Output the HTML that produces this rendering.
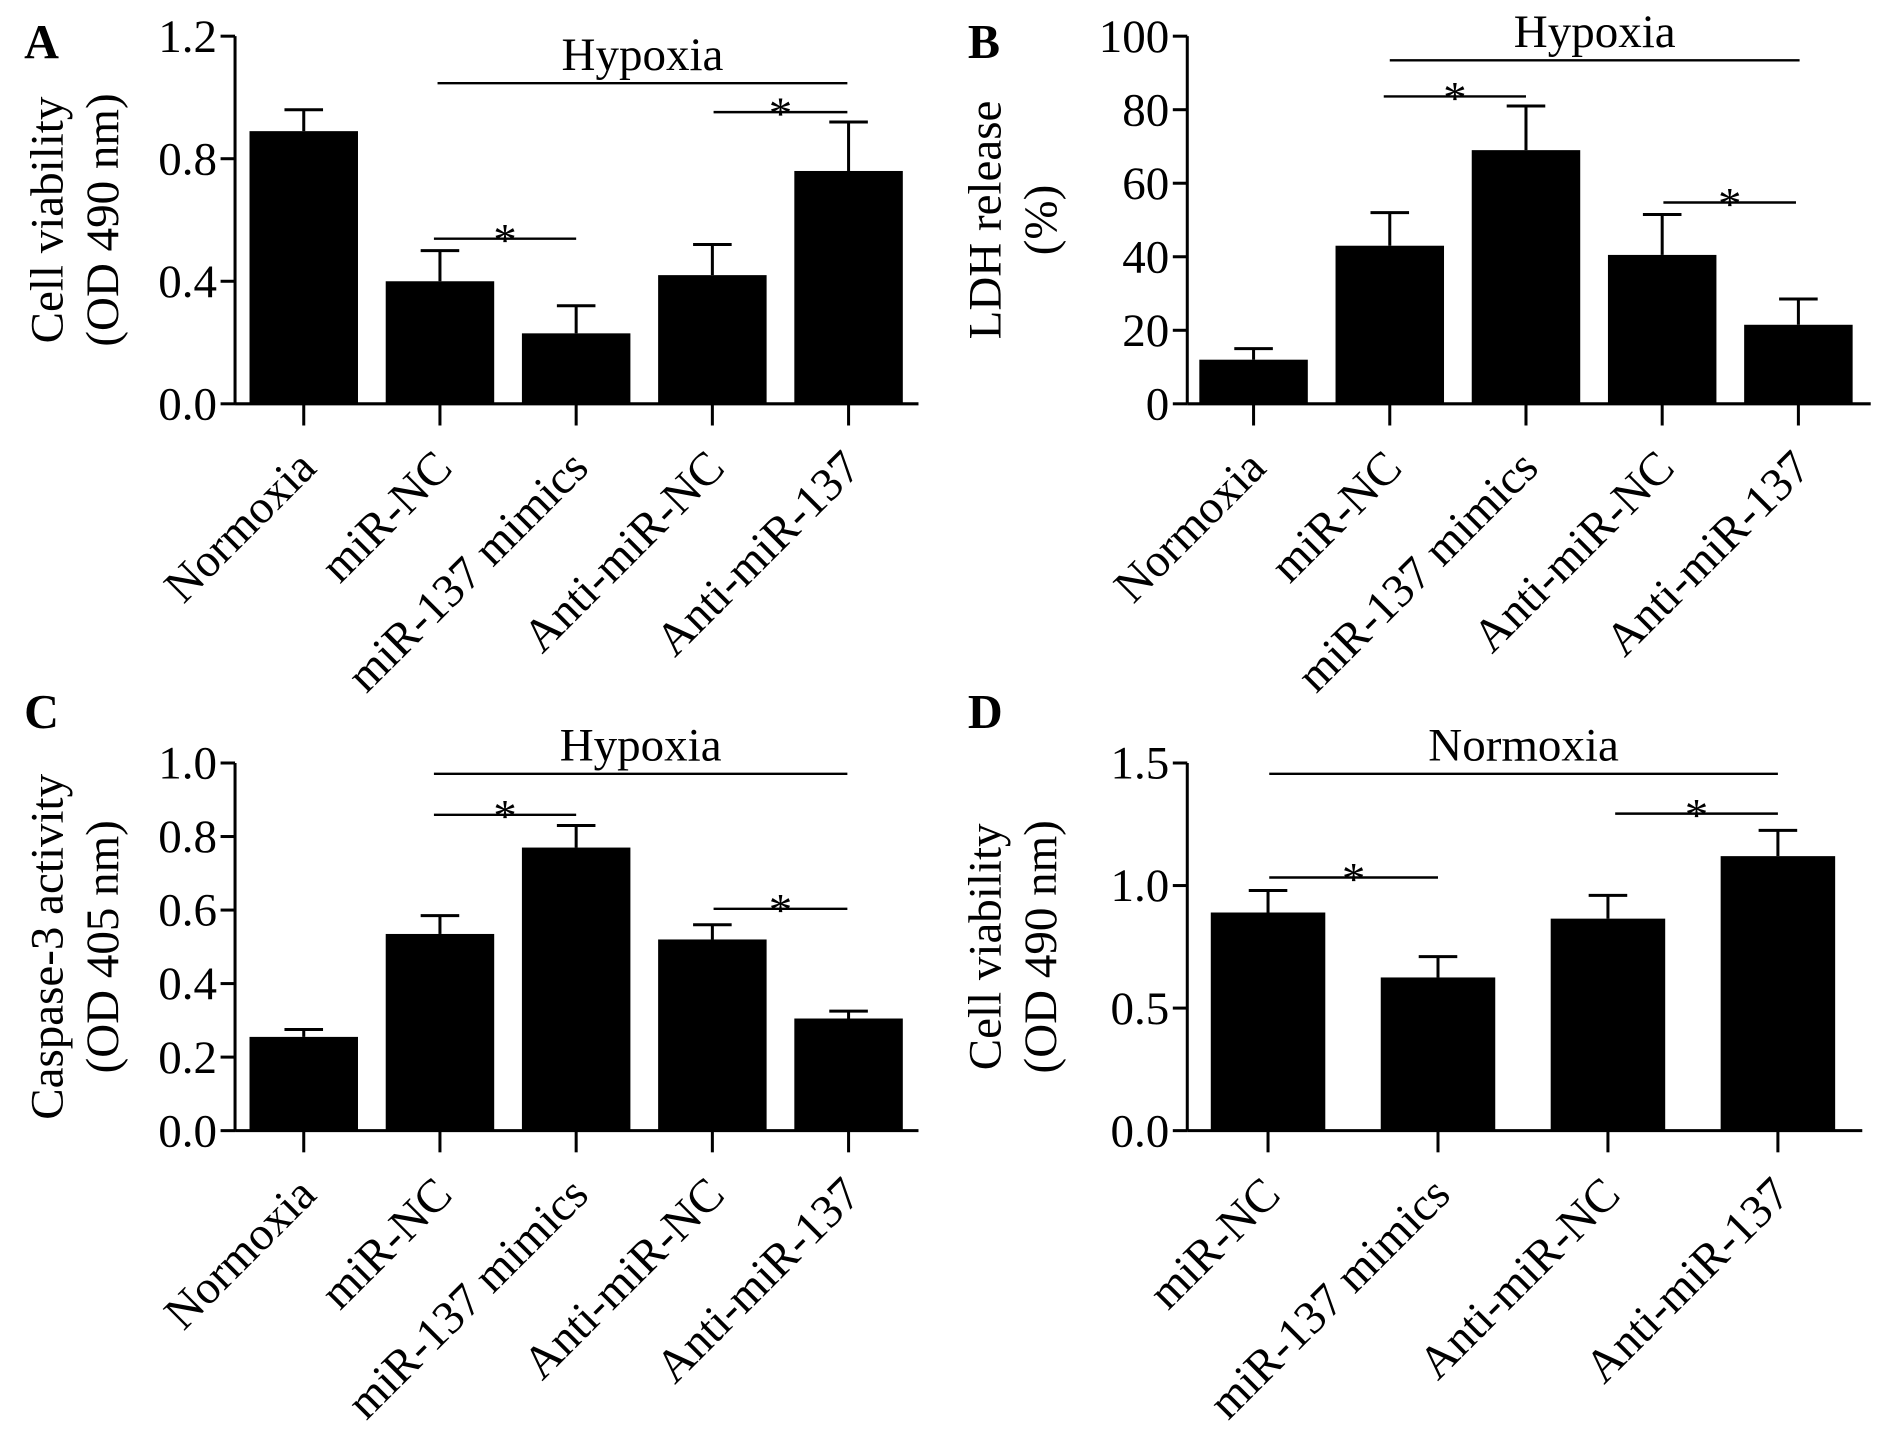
<!DOCTYPE html>
<html><head><meta charset="utf-8"><style>
html,body{margin:0;padding:0;background:#fff;}
svg{display:block;font-family:"Liberation Serif",serif;}
</style></head><body>
<svg id="fig" width="1890" height="1452" viewBox="0 0 1568 1204.6" xmlns="http://www.w3.org/2000/svg"></svg>
<script>
// Panel A
const catsA = ["Normoxia","miR-NC","miR-137 mimics","Anti-miR-NC","Anti-miR-137"];
const valsA = [0.89,0.40,0.23,0.42,0.76];
const errsA = [0.96,0.50,0.32,0.52,0.92];
const ticksA = [0.0,0.4,0.8,1.2];
const tickLabelsA = ["0.0","0.4","0.8","1.2"];
// Panel B
const catsB = ["Normoxia","miR-NC","miR-137 mimics","Anti-miR-NC","Anti-miR-137"];
const valsB = [12,43,69,40.5,21.5];
const errsB = [15,52,81,51.5,28.5];
const ticksB = [0,20,40,60,80,100];
const tickLabelsB = ["0","20","40","60","80","100"];
// Panel C
const catsC = ["Normoxia","miR-NC","miR-137 mimics","Anti-miR-NC","Anti-miR-137"];
const valsC = [0.255,0.535,0.77,0.52,0.305];
const errsC = [0.275,0.585,0.83,0.56,0.325];
const ticksC = [0,0.2,0.4,0.6,0.8,1.0];
const tickLabelsC = ["0.0","0.2","0.4","0.6","0.8","1.0"];
// Panel D
const catsD = ["miR-NC","miR-137 mimics","Anti-miR-NC","Anti-miR-137"];
const valsD = [0.89,0.625,0.865,1.12];
const errsD = [0.98,0.71,0.96,1.225];
const ticksD = [0,0.5,1.0,1.5];
const tickLabelsD = ["0.0","0.5","1.0","1.5"];

const FS = 39;
const svg = document.getElementById('fig');
const NS = "http://www.w3.org/2000/svg";
function mk(tag, attrs, parent){
  const e = document.createElementNS(NS, tag);
  for (const k in attrs) e.setAttribute(k, attrs[k]);
  (parent||svg).appendChild(e);
  return e;
}
function panel(o){
  const g = mk('g',{});
  
  
  const ymax = o.ticks[o.ticks.length-1];
  const Y = v => o.y0 - (v/ymax)*(o.y0-o.yTop);
  const X = i => o.c0 + i*o.step;
  const L = mk('text',{x:o.lx,y:o.ly,'font-size':40,'font-weight':'bold'},g);
  L.textContent = o.letter;
  
  
  const ya = mk('line',{x1:o.ax,y1:o.yTop,x2:o.ax,y2:o.y0,stroke:'#000','stroke-width':2.5},g);
  
  
  const xa = mk('line',{x1:o.ax,y1:o.y0,x2:o.xEnd,y2:o.y0,stroke:'#000','stroke-width':2.5},g);
  
  
  o.ticks.forEach((t,i)=>{
    mk('line',{x1:o.ax-12,y1:Y(t),x2:o.ax,y2:Y(t),stroke:'#000','stroke-width':2.5},g);
    const tl = mk('text',{x:o.ax-15,y:Y(t)+13,'font-size':FS,'text-anchor':'end'},g);
    tl.textContent = o.tickLabels[i];
    
    
  });
  o.ytitle.forEach((s,i)=>{
    const cx = o.tx[i], cy = (o.yTop+o.y0)/2;
    const t = mk('text',{x:cx,y:cy,'font-size':FS,'text-anchor':'middle',transform:`rotate(-90 ${cx} ${cy})`},g);
    t.textContent = s;
    
    
  });
  o.vals.forEach((v,i)=>{
    const cx = X(i);
    const el = mk('line',{x1:cx,y1:Y(o.errs[i]),x2:cx,y2:Y(v),stroke:'#000','stroke-width':2.5},g);
    
    
    mk('line',{x1:cx-16,y1:Y(o.errs[i]),x2:cx+16,y2:Y(o.errs[i]),stroke:'#000','stroke-width':2.5},g);
    const r = mk('rect',{x:cx-o.bw/2,y:Y(v),width:o.bw,height:o.y0-Y(v),fill:'#000'},g);
    
    
    mk('line',{x1:cx,y1:o.y0,x2:cx,y2:o.y0+18,stroke:'#000','stroke-width':2.5},g);
    const tx = cx+12, ty = o.y0+55;
    const cl = mk('text',{x:tx,y:ty,'font-size':FS,'text-anchor':'end',transform:`rotate(-45 ${tx} ${ty})`},g);
    cl.textContent = o.cats[i];
    
    
  });
  mk('line',{x1:o.grp[0],y1:o.grp[2],x2:o.grp[1],y2:o.grp[2],stroke:'#000','stroke-width':2},g);
  const gt = mk('text',{x:(o.grp[0]+o.grp[1])/2,y:o.grp[2]-11,'font-size':FS,'text-anchor':'middle'},g);
  gt.textContent = o.grpLabel;
  
  
  o.sig.forEach(s=>{
    mk('line',{x1:s[0],y1:s[2],x2:s[1],y2:s[2],stroke:'#000','stroke-width':2},g);
    const st = mk('text',{x:(s[0]+s[1])/2,y:s[2]+14,'font-size':FS,'text-anchor':'middle'},g);
    st.textContent = '*';
    
    
  });
}
panel({letter:'A',lx:20,ly:48,ax:195,xEnd:762,y0:335,yTop:30,ticks:ticksA,tickLabels:tickLabelsA,
  cats:catsA,vals:valsA,errs:errsA,c0:252,step:113,bw:90,ytitle:['Cell viability','(OD 490 nm)'],tx:[52,98],
  grp:[363,703,69],grpLabel:'Hypoxia',sig:[[360,478,198],[592,703,93]]});
panel({letter:'B',lx:803,ly:48,ax:985,xEnd:1552,y0:335,yTop:30,ticks:ticksB,tickLabels:tickLabelsB,
  cats:catsB,vals:valsB,errs:errsB,c0:1040,step:113,bw:90,ytitle:['LDH release','(%)'],tx:[830,876],
  grp:[1153,1493,50],grpLabel:'Hypoxia',sig:[[1148,1266,80],[1380,1490,168]]});
panel({letter:'C',lx:20,ly:604,ax:195,xEnd:762,y0:938,yTop:633,ticks:ticksC,tickLabels:tickLabelsC,
  cats:catsC,vals:valsC,errs:errsC,c0:252,step:113,bw:90,ytitle:['Caspase-3 activity','(OD 405 nm)'],tx:[52,98],
  grp:[360,703,642],grpLabel:'Hypoxia',sig:[[360,478,676],[592,703,754]]});
panel({letter:'D',lx:803,ly:604,ax:985,xEnd:1545,y0:938,yTop:633,ticks:ticksD,tickLabels:tickLabelsD,
  cats:catsD,vals:valsD,errs:errsD,c0:1052,step:141,bw:95,ytitle:['Cell viability','(OD 490 nm)'],tx:[830,876],
  grp:[1053,1475,642],grpLabel:'Normoxia',sig:[[1053,1193,728],[1340,1475,675]]});
</script>
</body></html>
